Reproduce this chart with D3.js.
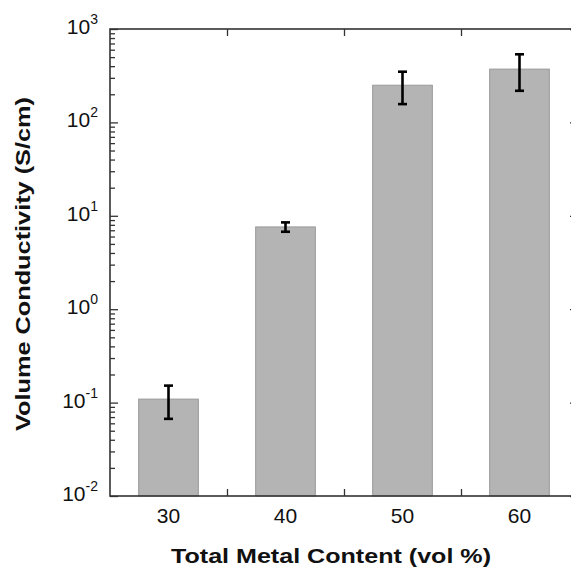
<!DOCTYPE html>
<html>
<head>
<meta charset="utf-8">
<style>
    body { margin:0; background:#fff; }
    text { font-family: Arial, "Liberation Sans", sans-serif; }
</style>
<script type="text/javascript" src="https://d3js.org/d3.v7.min.js"></script>
</head>
<body>
<svg id="chart"></svg>
<script>
    // metal content (vol %) and conductivity (S/cm)
    var contents = [30, 40, 50, 60];
    var conductivity = [0.109, 7.6, 250, 372];
    var errLow = [0.067, 6.75, 157, 218];
    var errHigh = [0.152, 8.5, 349, 536];
    var yMajor = [-2, -1, 0, 1, 2, 3];
    var xMinor = [35, 45, 55];

    var screen = {width:571, height:570};
    var margin = {left:110, top:29, right:-7, bottom:74};

    var svg = d3.select("#chart")
        .attr("width", screen.width)
        .attr("height", screen.height);

    var xScale = d3.scaleLinear()
        .domain([25, 65])
        .range([margin.left, screen.width - margin.right]);
    var yScale = d3.scaleLog()
        .domain([1e-2, 1e3])
        .range([screen.height - margin.bottom, margin.top]);

    var x0 = xScale.range()[0], x1 = xScale.range()[1];
    var y0 = yScale.range()[0], y1 = yScale.range()[1];

    // minor log ticks 2..9 in each decade
    var minorTicks = [];
    yMajor.slice(0, -1).forEach(function(e)
    {
        for (var k = 2; k <= 9; k++) minorTicks.push(k * Math.pow(10, e));
    });

    // bars
    svg.selectAll("rect.bar")
        .data(contents)
        .enter()
        .append("rect")
        .attr("class", "bar")
        .attr("x", function(d) { return xScale(d - 2.55); })
        .attr("width", function(d) { return xScale(d + 2.55) - xScale(d - 2.55); })
        .attr("y", function(d, i) { return yScale(conductivity[i]); })
        .attr("height", function(d, i) { return y0 - yScale(conductivity[i]); })
        .attr("fill", "#b4b4b4")
        .attr("stroke", "#999")
        .attr("stroke-width", 1);

    // error bars
    var err = svg.append("g")
        .attr("stroke", "#000")
        .attr("stroke-width", 2.6);
    contents.forEach(function(d, i)
    {
        var cx = xScale(d);
        err.append("line")
            .attr("x1", cx).attr("x2", cx)
            .attr("y1", yScale(errLow[i])).attr("y2", yScale(errHigh[i]));
        [errLow[i], errHigh[i]].forEach(function(v)
        {
            err.append("line")
                .attr("x1", cx - 4.5).attr("x2", cx + 4.5)
                .attr("y1", yScale(v)).attr("y2", yScale(v));
        });
    });

    var axisColor = "#333";
    var styleAxis = function(g)
    {
        g.select(".domain").remove();
        g.selectAll("line").attr("stroke", axisColor).attr("stroke-width", 1.3);
        g.selectAll("text").remove();
    };

    // left axis majors + minors (inward)
    svg.append("g")
        .attr("transform", "translate(" + x0 + ",0)")
        .call(d3.axisRight(yScale).tickValues(yMajor.map(function(e) { return Math.pow(10, e); })).tickSize(8))
        .call(styleAxis);
    svg.append("g")
        .attr("transform", "translate(" + x0 + ",0)")
        .call(d3.axisRight(yScale).tickValues(minorTicks).tickSize(5))
        .call(styleAxis);
    // right axis (mostly off screen)
    svg.append("g")
        .attr("transform", "translate(" + x1 + ",0)")
        .call(d3.axisLeft(yScale).tickValues(yMajor.map(function(e) { return Math.pow(10, e); })).tickSize(8))
        .call(styleAxis);

    // bottom and top x ticks
    svg.append("g")
        .attr("transform", "translate(0," + y0 + ")")
        .call(d3.axisTop(xScale).tickValues(xMinor).tickSize(7))
        .call(styleAxis);
    svg.append("g")
        .attr("transform", "translate(0," + y1 + ")")
        .call(d3.axisBottom(xScale).tickValues(xMinor).tickSize(7))
        .call(styleAxis);

    // frame
    svg.append("rect")
        .attr("x", x0).attr("y", y1)
        .attr("width", x1 - x0).attr("height", y0 - y1)
        .attr("fill", "none")
        .attr("stroke", axisColor)
        .attr("stroke-width", 1.6);

    // x tick labels
    svg.selectAll("text.xlab")
        .data(contents)
        .enter()
        .append("text")
        .attr("class", "xlab")
        .attr("x", function(d) { return xScale(d); })
        .attr("y", y0 + 27)
        .attr("text-anchor", "middle")
        .attr("font-size", 21)
        .attr("fill", "#111")
        .text(function(d) { return d; });

    // y tick labels 10^n
    var ylab = svg.selectAll("text.ylab")
        .data(yMajor)
        .enter()
        .append("text")
        .attr("class", "ylab")
        .attr("x", x0 - 12)
        .attr("y", function(e) { return yScale(Math.pow(10, e)) + 5; })
        .attr("text-anchor", "end")
        .attr("fill", "#111");
    ylab.append("tspan")
        .attr("font-size", 21)
        .text("10");
    ylab.append("tspan")
        .attr("font-size", 14)
        .attr("dy", -10)
        .text(function(e) { return e; });

    // axis titles
    svg.append("text")
        .attr("x", 331)
        .attr("y", 563)
        .attr("text-anchor", "middle")
        .attr("font-size", 21)
        .attr("font-weight", "bold")
        .attr("fill", "#111")
        .attr("textLength", 320)
        .attr("lengthAdjust", "spacingAndGlyphs")
        .text("Total Metal Content (vol %)");
    svg.append("text")
        .attr("transform", "translate(30,264) rotate(-90)")
        .attr("text-anchor", "middle")
        .attr("font-size", 21)
        .attr("font-weight", "bold")
        .attr("fill", "#111")
        .attr("textLength", 334)
        .attr("lengthAdjust", "spacingAndGlyphs")
        .text("Volume Conductivity (S/cm)");
</script>
</body>
</html>
